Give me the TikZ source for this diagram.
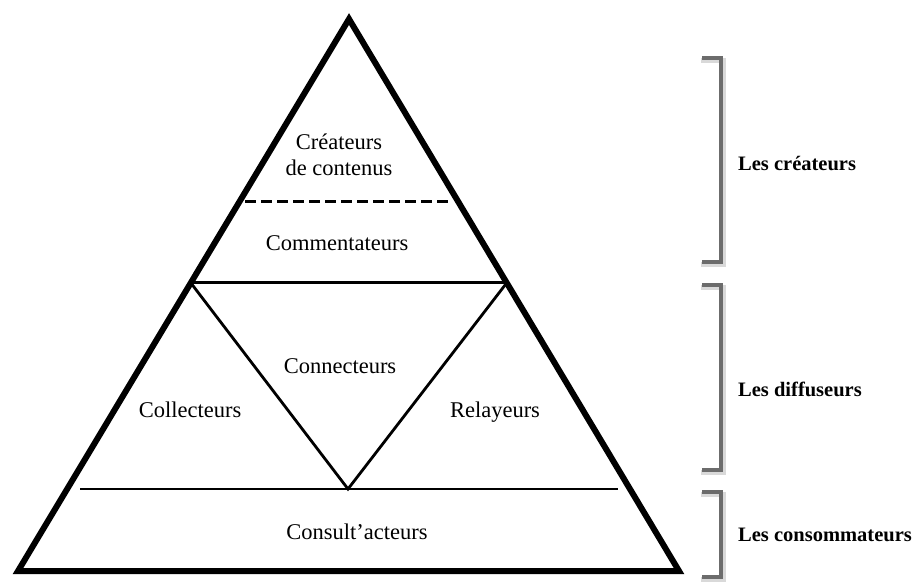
\documentclass[tikz,border=0pt]{standalone}
\usepackage{fontspec}
\setmainfont{Liberation Serif}
\usetikzlibrary{calc}
\begin{document}
\begin{tikzpicture}[x=1pt,y=-1pt,
  outer/.style={line width=6pt, line join=miter, black},
  inner/.style={line width=2.8pt, black},
  dashline/.style={line width=3pt, black, dash pattern=on 11pt off 5pt},
  brk/.style={line width=3.5pt, gray!85!black, line join=miter},
  brkshadow/.style={line width=5pt, gray!30, line join=miter},
  lbl/.style={font=\fontsize{22.5}{26}\selectfont, inner sep=0pt, anchor=base},
  grp/.style={font=\bfseries\fontsize{20.5}{24}\selectfont, inner sep=0pt, anchor=base west}]
\useasboundingbox (0,0) rectangle (915,581);
% pyramid
\coordinate (T) at (349,19);
\coordinate (BL) at (18,571);
\coordinate (BR) at (679,571);
\coordinate (ML) at ($(T)!0.478!(BL)$);
\coordinate (MR) at ($(T)!0.478!(BR)$);
\coordinate (V) at (348,489);
\draw[inner] (ML) -- (MR);
\draw[inner] (ML) -- (V) -- (MR);
\draw[inner] (80,489) coordinate (LL) -- (618,489) coordinate (LR);
\draw[dashline] (245,201) coordinate (DL) -- (448,201) coordinate (DR);
\draw[outer] (T) -- (BL) -- (BR) -- cycle;
% labels
\node[lbl] (cre) at (339,149) {Créateurs};
\node[lbl] (cont) at (339,175) {de contenus};
\node[lbl] (com) at (337,250) {Commentateurs};
\node[lbl] (col) at (190,417) {Collecteurs};
\node[lbl] (con) at (340,373) {Connecteurs};
\node[lbl] (rel) at (495,417) {Relayeurs};
\node[lbl] (cons) at (357,539) {Consult'acteurs};
% brackets
\foreach \a/\b in {58/262, 285/470, 492/577}{
  \draw[brkshadow] (701,\a+2) -- (723,\a+2) -- (723,\b+2) -- (701,\b+2);
  \draw[brk] (702,\a) -- (721,\a) -- (721,\b) -- (702,\b);
}
\node[grp] (g1) at (738,170) {Les créateurs};
\node[grp] (g2) at (738,396) {Les diffuseurs};
\node[grp] (g3) at (738,541) {Les consommateurs};
\end{tikzpicture}
\end{document}
